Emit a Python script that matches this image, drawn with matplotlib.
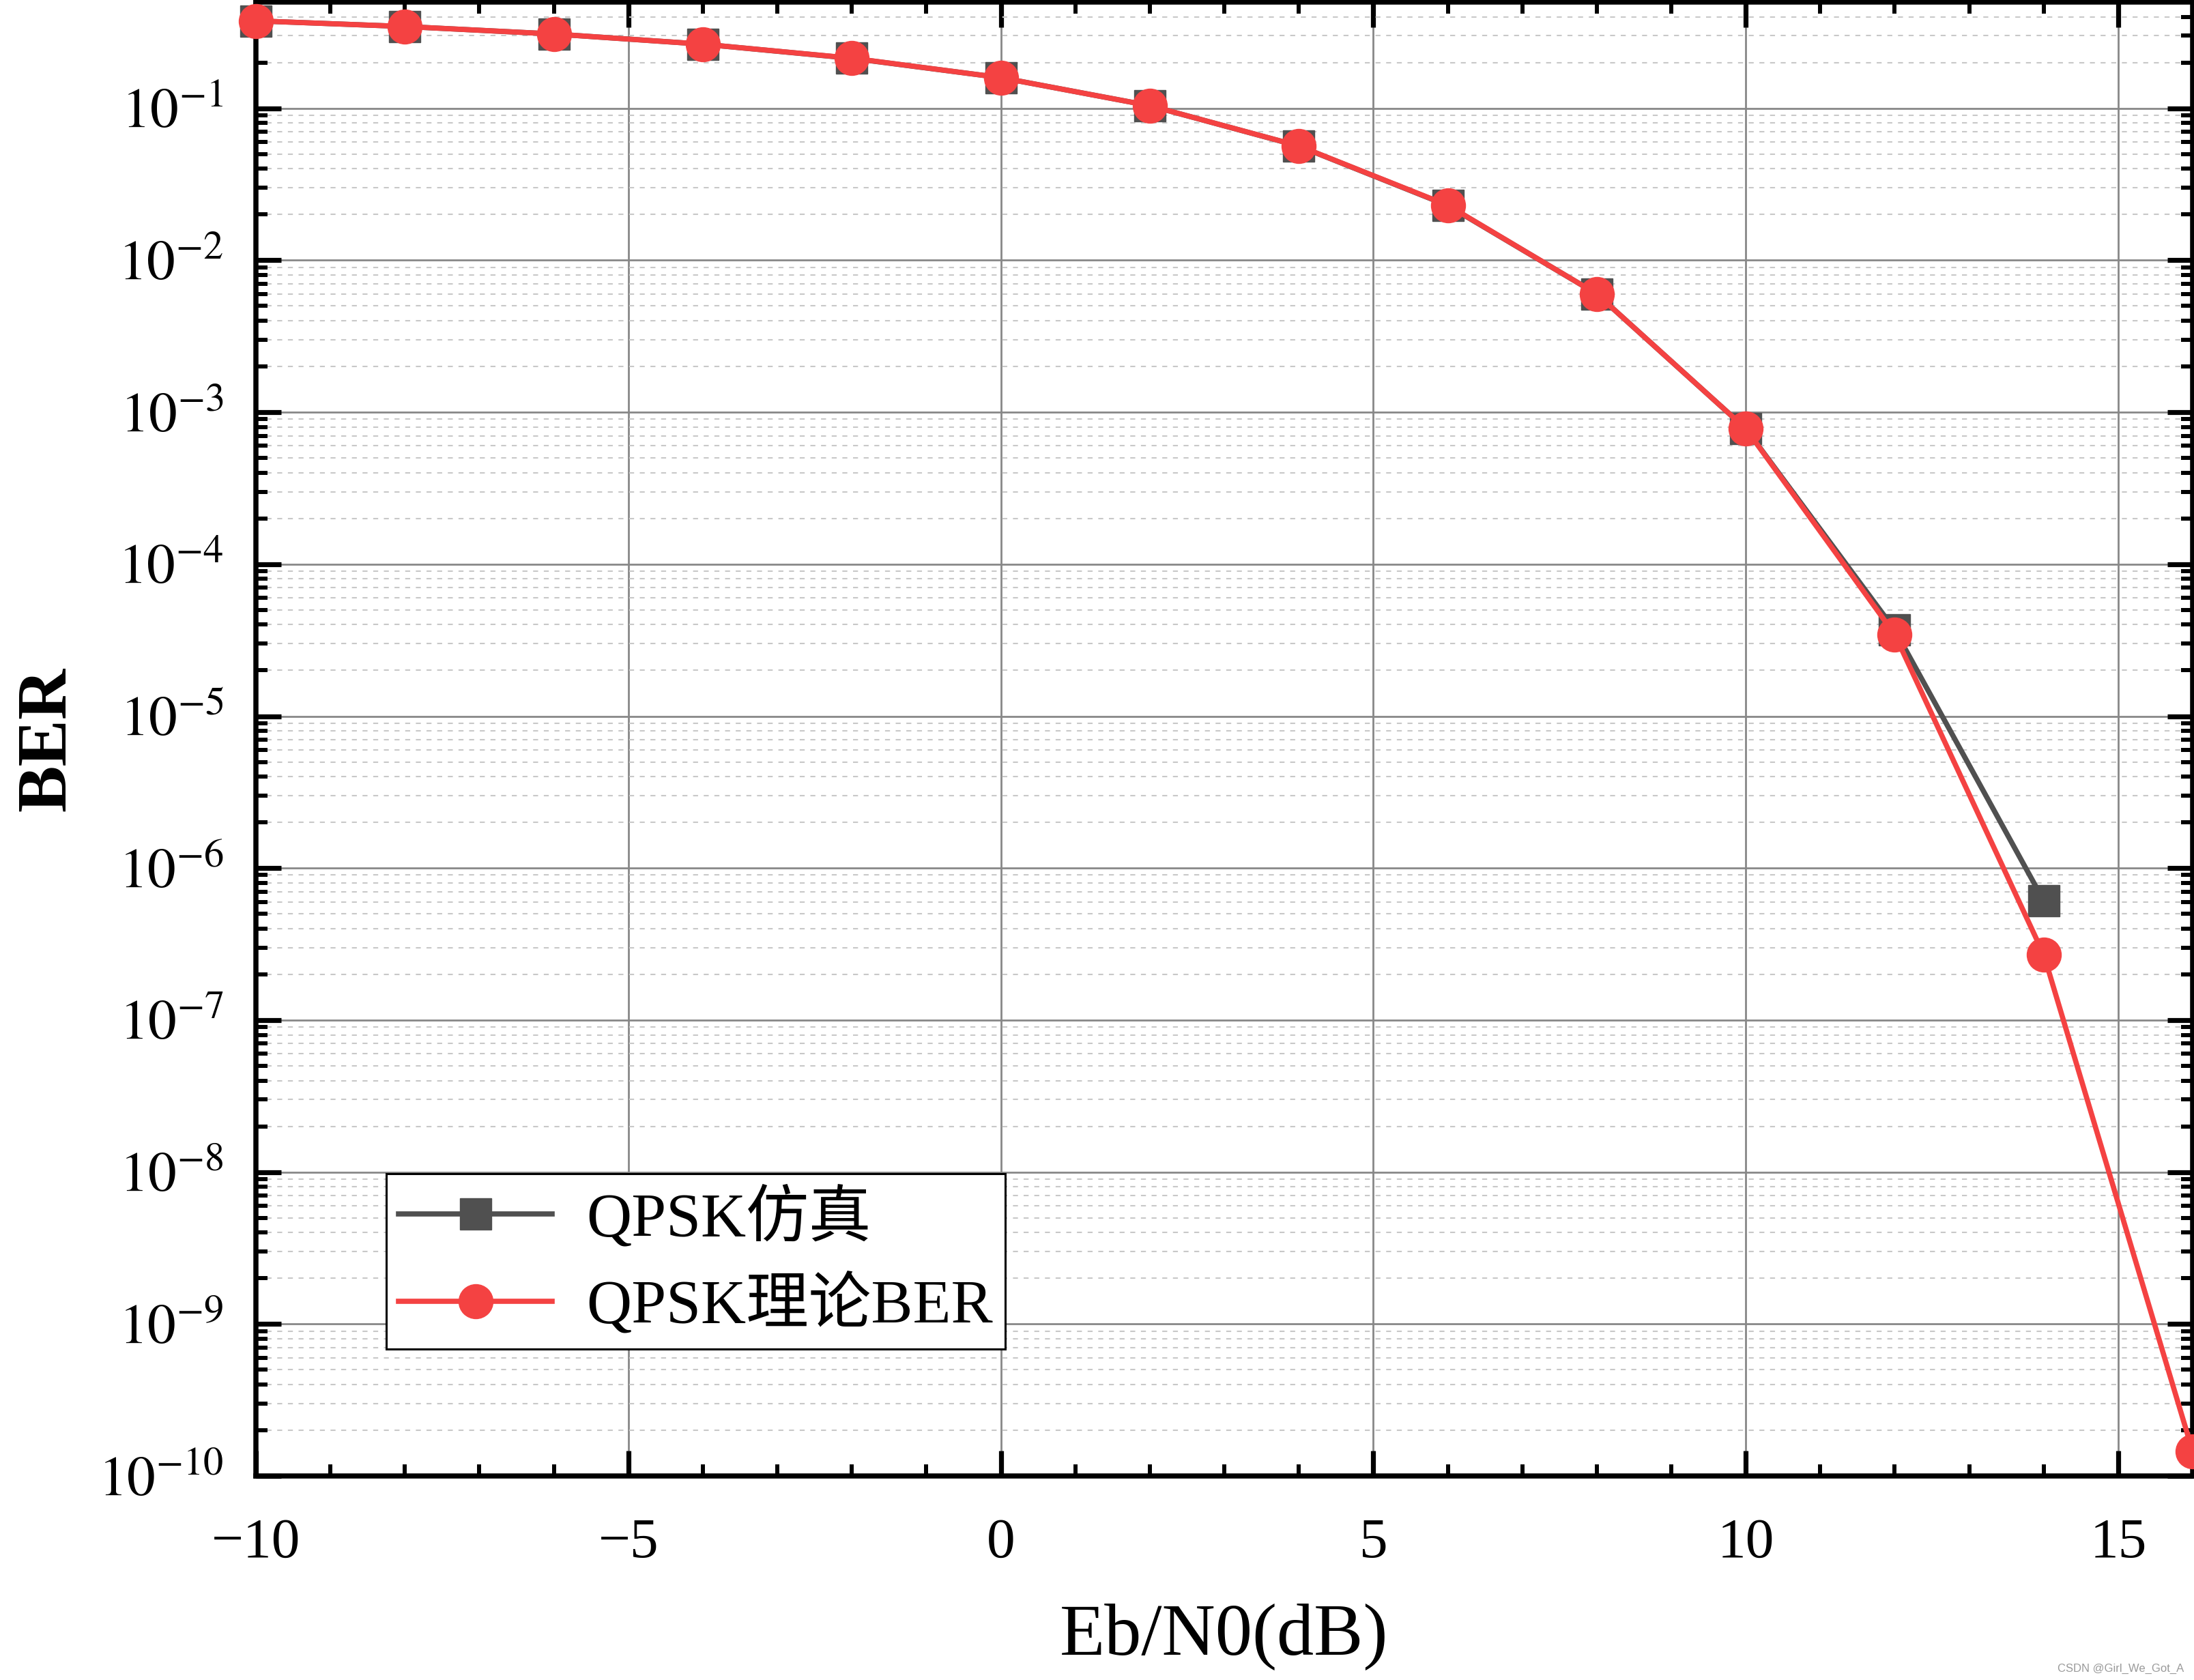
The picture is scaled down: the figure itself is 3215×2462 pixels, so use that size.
import math
import matplotlib
matplotlib.use("Agg")
import matplotlib.pyplot as plt
from matplotlib.ticker import FixedLocator, LogLocator, FuncFormatter, MultipleLocator, NullFormatter
from matplotlib.font_manager import FontProperties

plt.rcParams['font.family'] = ['Liberation Serif', 'Noto Sans CJK SC', 'DejaVu Sans']
plt.rcParams['mathtext.fontset'] = 'stix'

# ---- data ----
ebn0_theory = [-10, -8, -6, -4, -2, 0, 2, 4, 6, 8, 10, 12, 14, 16]
ber_theory = [0.376, 0.345, 0.308, 0.264, 0.2135, 0.159, 0.104, 0.0565,
              0.0230, 0.0060, 7.8e-4, 3.45e-5, 2.7e-7, 1.45e-10]
ebn0_sim = [-10, -8, -6, -4, -2, 0, 2, 4, 6, 8, 10, 12, 14]
ber_sim = [0.376, 0.345, 0.308, 0.264, 0.213, 0.159, 0.104, 0.0564,
           0.0229, 0.0060, 7.8e-4, 3.7e-5, 6.1e-7]
label_sim = 'QPSK仿真'
label_theory = 'QPSK理论BER'
xticks = [-10, -5, 0, 5, 10, 15]

RED = '#F44242'
GRAY = '#505050'

fig = plt.figure(figsize=(32.16, 24.62), dpi=100)
ax = fig.add_axes([0.1166, 0.1214, 0.8825, 0.8774])

ax.plot(ebn0_sim, ber_sim, color=GRAY, lw=5.5, marker='s', ms=33,
        zorder=3, clip_on=False, label=label_sim)
ax.plot(ebn0_theory, ber_theory, color=RED, lw=5.5, marker='o', ms=36,
        zorder=4, clip_on=False, label=label_theory)

ax.set_yscale('log')
ax.set_xlim(-10, 16)
ax.set_ylim(1e-10, 0.5)

ax.xaxis.set_major_locator(FixedLocator(xticks))
ax.xaxis.set_minor_locator(MultipleLocator(1))
ax.yaxis.set_major_locator(LogLocator(base=10, numticks=20))
ax.yaxis.set_minor_locator(LogLocator(base=10, subs=range(2, 10), numticks=50))
ax.yaxis.set_minor_formatter(NullFormatter())
ax.yaxis.set_major_formatter(FuncFormatter(lambda v, p: r'$10^{%d}$' % round(math.log10(v))))

ax.tick_params(which='both', direction='in', top=True, right=True)
ax.tick_params(which='major', length=26.6, width=5.2)
ax.tick_params(which='minor', length=12, width=4.3)
ax.tick_params(axis='x', which='major', labelsize=60, pad=44)
ax.tick_params(axis='y', which='major', labelsize=60, pad=34)

for s in ax.spines.values():
    s.set_linewidth(5.4)

ax.set_axisbelow(True)
ax.grid(True, which='major', color='#888888', lw=2.0)
ax.grid(True, which='minor', axis='y', color='#c8c8c8', lw=1.5, dashes=(3.5, 4))

ax.set_xlabel('Eb/N0(dB)', fontsize=78, labelpad=36)
ax.set_ylabel('BER', fontsize=74, fontweight='bold', labelpad=19)

leg_font = FontProperties(family=['Liberation Serif', 'Noto Sans CJK SC'], size=66)
leg = ax.legend(loc='upper left', bbox_to_anchor=(0.0673, 0.205), borderaxespad=0,
                prop=leg_font, handlelength=2.45, handletextpad=0.55, borderpad=0.2,
                labelspacing=0.4, fancybox=False, framealpha=1, edgecolor='black')
leg.get_frame().set_linewidth(2.2)

fig.text(0.995, 1 - 2445 / 2462, 'CSDN @Girl_We_Got_A', ha='right', va='center',
         color='#9a9a9a', fontsize=12, family='Liberation Sans')

fig.savefig('out.png', dpi=100)
